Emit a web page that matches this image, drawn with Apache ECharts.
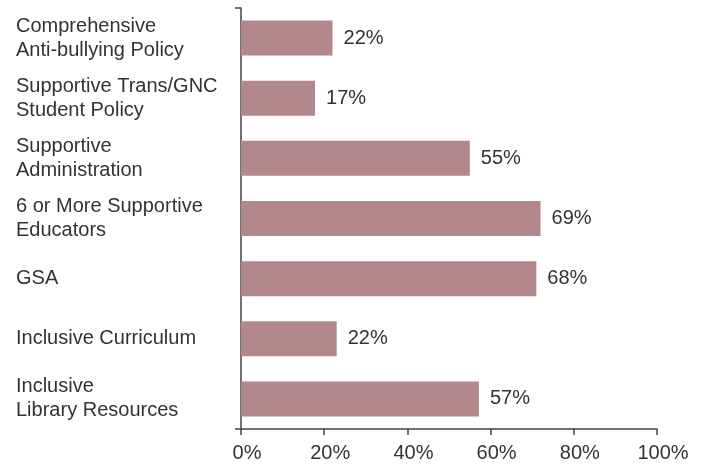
<!DOCTYPE html>
<html><head><meta charset="utf-8">
<script src="https://cdn.jsdelivr.net/npm/echarts@6/dist/echarts.min.js"></script>
<style>html,body{margin:0;padding:0;background:#fff}#c{width:704px;height:466px}</style>
</head><body><div id="c"></div>
<script>
const categories = ['Comprehensive\nAnti-bullying Policy','Supportive Trans/GNC\nStudent Policy','Supportive\nAdministration','6 or More Supportive\nEducators','GSA','Inclusive Curriculum','Inclusive\nLibrary Resources'];
const values = [22, 17.8, 55, 72, 71, 23, 57.2];
const valueLabels = ['22%','17%','55%','69%','68%','22%','57%'];
const xTicks = [0,20,40,60,80,100];
const font = 'Liberation Sans';
const chart = echarts.init(document.getElementById('c'));
chart.setOption({
  animation:false,
  grid:{left:241,right:47,top:8,bottom:37,outerBoundsMode:'none'},
  xAxis:{type:'value',min:xTicks[0],max:xTicks[xTicks.length-1],interval:xTicks[1]-xTicks[0],
    axisLine:{show:true,lineStyle:{color:'#444',width:1.5}},
    axisTick:{show:true,length:6,lineStyle:{color:'#444',width:1.5}},
    splitLine:{show:false},
    axisLabel:{formatter:v=>v+'%',color:'#333',fontSize:20,fontFamily:font,margin:14,padding:[0,0,0,12]}},
  yAxis:{type:'category',inverse:true,data:categories,
    axisLine:{show:true,lineStyle:{color:'#444',width:1.5}},
    axisTick:{show:true,length:6,lineStyle:{color:'#444',width:1.5},interval:(i)=>i===0},
    axisLabel:{align:'left',margin:225,color:'#333',fontSize:20,fontFamily:font,lineHeight:24}},
  series:[{type:'bar',data:values,barWidth:35,itemStyle:{color:'#b3888c'},
    label:{show:true,position:'right',distance:11,color:'#333',fontSize:20,fontFamily:font,
      formatter:p=>valueLabels[p.dataIndex]}}]
});
</script></body></html>
